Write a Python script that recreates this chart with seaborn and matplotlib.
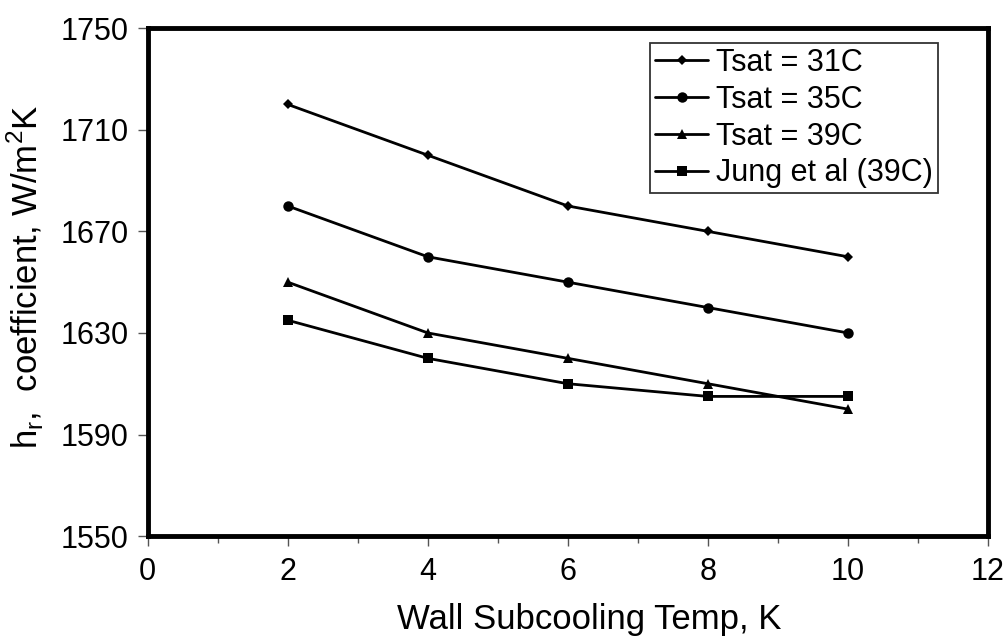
import numpy as np
import pandas as pd
import matplotlib.pyplot as plt
import seaborn as sns
from matplotlib.ticker import MultipleLocator, FixedLocator

# Wall subcooling temperature, K
subcooling = [2, 4, 6, 8, 10]

# heat transfer coefficient h_r, W/m2K
tsat_31 = [1720, 1700, 1680, 1670, 1660]
tsat_35 = [1680, 1660, 1650, 1640, 1630]
tsat_39 = [1650, 1630, 1620, 1610, 1600]
jung_39 = [1635, 1620, 1610, 1605, 1605]

series_names = ['Tsat = 31C', 'Tsat = 35C', 'Tsat = 39C', 'Jung et al (39C)']
series_values = [tsat_31, tsat_35, tsat_39, jung_39]


def make_plot():
    rows = []
    for name, vals in zip(series_names, series_values):
        for x, y in zip(subcooling, vals):
            rows.append({'Subcooling': x, 'h': y, 'Series': name})
    df = pd.DataFrame(rows)

    sns.set_style('white')
    plt.rcParams['font.family'] = ['Liberation Sans', 'DejaVu Sans']
    plt.rcParams['text.color'] = 'black'
    plt.rcParams['axes.labelcolor'] = 'black'

    fig = plt.figure(figsize=(10.05, 6.42), dpi=100)
    # plot area: x 148..988 px, y 28..536 px
    ax = fig.add_axes([0.147, 0.165, 0.836, 0.791])

    markers = {'Tsat = 31C': 'D', 'Tsat = 35C': 'o', 'Tsat = 39C': '^', 'Jung et al (39C)': 's'}
    sizes = {'Tsat = 31C': 5, 'Tsat = 35C': 7.5, 'Tsat = 39C': 7.5, 'Jung et al (39C)': 7}
    for name in series_names:
        sub = df[df['Series'] == name]
        sns.lineplot(data=sub, x='Subcooling', y='h', ax=ax, color='black',
                     linewidth=2, marker=markers[name], markersize=sizes[name],
                     markeredgewidth=0, label=name)

    ax.set_xlim(0, 12)
    ax.set_ylim(1550, 1750)
    ax.xaxis.set_major_locator(MultipleLocator(2))
    ax.xaxis.set_minor_locator(MultipleLocator(1))
    ax.yaxis.set_major_locator(FixedLocator(np.arange(1550, 1751, 40)))
    ax.tick_params(axis='both', which='major', direction='out', length=7, width=1,
                   labelsize=22, color='#555555', labelcolor='black',
                   left=True, bottom=True)
    ax.tick_params(axis='x', which='major', pad=8)
    ax.tick_params(axis='y', which='major', pad=7)
    ax.tick_params(axis='x', which='minor', direction='out', length=5, width=1,
                   color='#555555', bottom=True)

    for spine in ax.spines.values():
        spine.set_visible(True)
        spine.set_linewidth(3.5)
        spine.set_color('black')

    ax.set_xlabel('Wall Subcooling Temp, K', fontsize=25, color='black')
    ax.xaxis.set_label_coords(0.526, -0.132)
    ax.set_ylabel(r'h$_\mathregular{r}$,  coefficient, W/m$^\mathregular{2}$K',
                  fontsize=25, color='black')
    ax.yaxis.set_label_coords(-0.121, 0.51)

    leg = ax.legend(loc='upper right', bbox_to_anchor=(0.940, 0.970), fontsize=22,
                    frameon=True, fancybox=False, handlelength=1.75,
                    handletextpad=0.25, borderpad=0.15, labelspacing=0.22,
                    borderaxespad=0)
    leg.get_frame().set_edgecolor('black')
    leg.get_frame().set_linewidth(1.3)
    for t in leg.get_texts():
        t.set_color('black')

    fig.savefig('out.png', dpi=100)
    plt.close(fig)


if __name__ == "__main__":
    make_plot()
